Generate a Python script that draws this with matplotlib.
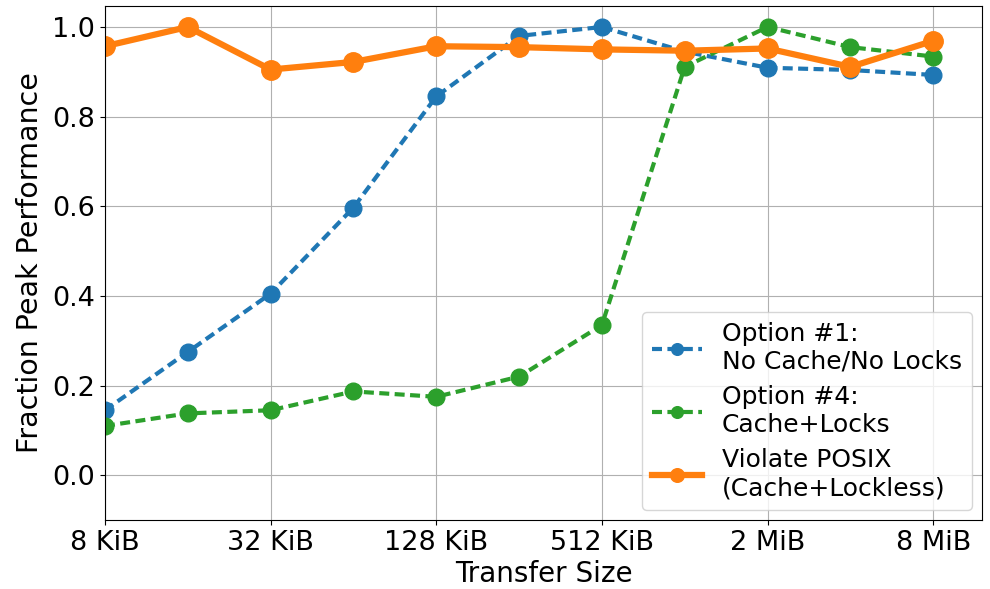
import matplotlib
matplotlib.use("Agg")
import matplotlib.pyplot as plt
import numpy as np

sizes_kib = [8, 16, 32, 64, 128, 256, 512, 1024, 2048, 4096, 8192]
tick_sizes = [8, 32, 128, 512, 2048, 8192]
tick_labels = ["8 KiB", "32 KiB", "128 KiB", "512 KiB", "2 MiB", "8 MiB"]

opt1 = [0.145, 0.275, 0.405, 0.597, 0.845, 0.980, 1.000, 0.945, 0.909, 0.904, 0.893]
opt4 = [0.110, 0.138, 0.145, 0.187, 0.175, 0.220, 0.335, 0.911, 1.000, 0.955, 0.934]
violate = [0.957, 1.000, 0.905, 0.922, 0.957, 0.955, 0.950, 0.947, 0.952, 0.911, 0.969]

fig = plt.figure(figsize=(9.9, 5.89), dpi=100)
ax = fig.add_axes([0.106, 0.117, 0.886, 0.873])

ax.plot(sizes_kib, opt1, "o--", color="#1f77b4", lw=3, ms=12, dashes=(2.4, 1.3),
        label="Option #1:\nNo Cache/No Locks")
ax.plot(sizes_kib, opt4, "o--", color="#2ca02c", lw=3, ms=12, dashes=(2.4, 1.3),
        label="Option #4:\nCache+Locks")
ax.plot(sizes_kib, violate, "o-", color="#ff7f0e", lw=4.5, ms=14,
        label="Violate POSIX\n(Cache+Lockless)")

ax.set_xscale("log", base=2)
ax.set_xlim(8, 8192 * 2 ** 0.59)
ax.set_ylim(-0.1, 1.047)
ax.set_xticks(tick_sizes)
ax.set_xticklabels(tick_labels)
ax.minorticks_off()
ax.set_yticks([0.0, 0.2, 0.4, 0.6, 0.8, 1.0])
ax.tick_params(labelsize=19.5)
ax.grid(True, color="#b0b0b0", lw=0.8)
ax.set_xlabel("Transfer Size", fontsize=20, labelpad=3)
ax.set_ylabel("Fraction Peak Performance", fontsize=20.5, labelpad=6)
ax.legend(loc="lower right", fontsize=18, handlelength=2, labelspacing=0.45,
          borderaxespad=0.4, markerscale=0.7, framealpha=0.8)

fig.savefig("out.png", dpi=100)
